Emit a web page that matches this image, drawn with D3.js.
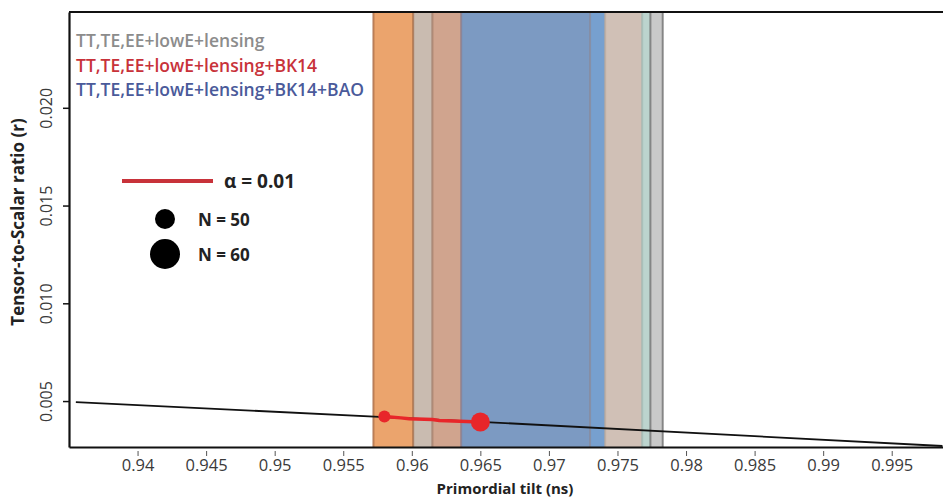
<!DOCTYPE html>
<html>
<head>
<meta charset="utf-8">
<script src="https://cdn.jsdelivr.net/npm/d3@7"></script>
<style>
  body { margin: 0; background: #fff; }
  text { font-family: "Open Sans", "Liberation Sans", sans-serif; }
</style>
</head>
<body>
<div id="viz"></div>
<script>
// ---- data ----
var xTicks = [0.94, 0.945, 0.95, 0.955, 0.96, 0.965, 0.97, 0.975, 0.98, 0.985, 0.99, 0.995];
var yTicks = [0.005, 0.010, 0.015, 0.020];

// vertical constraint bands (ns edges, left to right)
var bandEdges = [0.9572, 0.9601, 0.9615, 0.9636, 0.9730, 0.9741, 0.9768, 0.9774, 0.9783];

// the black model curve
var curveNs = [0.9355, 0.958, 0.965, 0.9987];
var curveR  = [0.00495, 0.00418, 0.00394, 0.0027];

// alpha = 0.01 segment between N = 50 and N = 60
var alphaNs = [0.958, 0.9592, 0.9598, 0.9615, 0.9620, 0.965];
var alphaR  = [0.00421, 0.00414, 0.00410, 0.00406, 0.00401, 0.00393];

var pointNs = [0.958, 0.965];
var pointR  = [0.00421, 0.003925];
var pointN  = [50, 60];

var legendLabels = ["TT,TE,EE+lowE+lensing", "TT,TE,EE+lowE+lensing+BK14", "TT,TE,EE+lowE+lensing+BK14+BAO"];

// ---- styles ----
var bandFill   = ["#eba46d", "#c9bbb0", "#d0a48e", "#7c9ac2", "#77a0cf", "#d0c0b6", "#bcd4ce", "#c9c9c9"];
var bandStroke = ["#a8663e", "#a06a48", "#a07a66", "#8a7a8a", "#8a8a9a", "#b8a89c", "#a0b8b2", "#6a6a6a"];
var legendColors = ["#8c8c8c", "#c8323a", "#4a5a9a"];

var width = 943, height = 497;
var margin = {top: 12, right: 0, bottom: 50, left: 69};

var svg = d3.select("#viz")
  .append("svg")
  .attr("width", width)
  .attr("height", height);

var x = d3.scaleLinear()
  .domain([0.935, 0.99874])
  .range([margin.left, width - margin.right]);

var y = d3.scaleLinear()
  .domain([0.00265, 0.0249])
  .range([height - margin.bottom, margin.top]);

// bands
var bands = d3.range(bandEdges.length - 1).map(function(i) {
  return {a: bandEdges[i], b: bandEdges[i + 1], i: i};
});
svg.append("g").selectAll("rect")
  .data(bands)
  .enter().append("rect")
  .attr("x", function(d) { return x(d.a); })
  .attr("width", function(d) { return x(d.b) - x(d.a); })
  .attr("y", y.range()[1])
  .attr("height", y.range()[0] - y.range()[1])
  .attr("fill", function(d) { return bandFill[d.i]; });

// darker edges between bands
svg.append("g").selectAll("line")
  .data(bandEdges)
  .enter().append("line")
  .attr("x1", function(d) { return x(d); })
  .attr("x2", function(d) { return x(d); })
  .attr("y1", y.range()[1])
  .attr("y2", y.range()[0])
  .attr("stroke", function(d, i) { return bandStroke[Math.min(i, bandStroke.length - 1)]; })
  .attr("stroke-width", 2)
  .attr("opacity", 0.75);

// black curve
var curve = curveNs.map(function(d, i) { return [d, curveR[i]]; });
svg.append("path").datum(curve)
  .attr("fill", "none")
  .attr("stroke", "#111")
  .attr("stroke-width", 1.8)
  .attr("d", d3.line()
    .x(function(d) { return x(d[0]); })
    .y(function(d) { return y(d[1]); }));

// red alpha segment
var alphaPts = alphaNs.map(function(d, i) { return [d, alphaR[i]]; });
svg.append("path").datum(alphaPts)
  .attr("fill", "none")
  .attr("stroke", "#e8262a")
  .attr("stroke-width", 3.5)
  .attr("d", d3.line()
    .x(function(d) { return x(d[0]); })
    .y(function(d) { return y(d[1]); }));

var rSize = d3.scaleLinear().domain([50, 60]).range([6, 9.5]);
svg.append("g").selectAll("circle")
  .data(pointNs)
  .enter().append("circle")
  .attr("cx", function(d) { return x(d); })
  .attr("cy", function(d, i) { return y(pointR[i]); })
  .attr("r", function(d, i) { return rSize(pointN[i]); })
  .attr("fill", "#e8262a");

// axes
var xAxis = svg.append("g")
  .attr("transform", "translate(0," + y.range()[0] + ")")
  .call(d3.axisBottom(x).tickValues(xTicks).tickFormat(d3.format("")).tickSizeOuter(0).tickSizeInner(0).tickPadding(12));
xAxis.select(".domain").attr("stroke", "#111").attr("stroke-width", 2.2);
xAxis.selectAll(".tick").append("line")
  .attr("y1", 4).attr("y2", 9).attr("stroke", "#555").attr("stroke-width", 1);
xAxis.selectAll(".tick text")
  .attr("fill", "#3a3a3a")
  .style("font-size", "16.5px")
  .style("font-family", "'Open Sans', sans-serif");

var yAxis = svg.append("g")
  .attr("transform", "translate(" + x.range()[0] + ",0)")
  .call(d3.axisLeft(y).tickValues(yTicks).tickFormat(d3.format(".3f")).tickSizeOuter(0).tickSizeInner(6));
yAxis.select(".domain").attr("stroke", "#111").attr("stroke-width", 2.2);
yAxis.selectAll(".tick line").attr("stroke", "#111").attr("stroke-width", 1.5);
yAxis.selectAll(".tick text")
  .attr("fill", "#3a3a3a")
  .attr("transform", "rotate(-90)")
  .attr("x", 0)
  .attr("y", -17)
  .attr("dy", "0")
  .attr("text-anchor", "middle")
  .style("font-size", "16px")
  .style("font-family", "'Open Sans', sans-serif");

// top frame line
svg.append("line")
  .attr("x1", x.range()[0]).attr("x2", x.range()[1])
  .attr("y1", y.range()[1]).attr("y2", y.range()[1])
  .attr("stroke", "#111").attr("stroke-width", 2.2);

// axis titles
svg.append("text")
  .attr("x", 505).attr("y", 494)
  .attr("text-anchor", "middle")
  .attr("font-weight", "bold")
  .attr("font-size", "15px")
  .attr("fill", "#222")
  .text("Primordial tilt (ns)");

svg.append("text")
  .attr("transform", "translate(24,222) rotate(-90)")
  .attr("text-anchor", "middle")
  .attr("font-weight", "bold")
  .attr("font-size", "17px")
  .attr("fill", "#222")
  .text("Tensor-to-Scalar ratio (r)");

// dataset legend
svg.append("g").selectAll("text")
  .data(legendLabels)
  .enter().append("text")
  .attr("x", 76)
  .attr("y", function(d, i) { return 47 + i * 24.5; })
  .attr("font-weight", 600)
  .attr("font-size", "17.5px")
  .attr("fill", function(d, i) { return legendColors[i]; })
  .text(function(d) { return d; });

// alpha / N legend
svg.append("line")
  .attr("x1", 122).attr("x2", 213).attr("y1", 181).attr("y2", 181)
  .attr("stroke", "#c8323a").attr("stroke-width", 4);
svg.append("text")
  .attr("x", 224).attr("y", 188)
  .attr("font-weight", "bold").attr("font-size", "19px").attr("fill", "#222")
  .text("α = 0.01");

var legN = svg.append("g").selectAll("g")
  .data(pointN)
  .enter().append("g");
legN.append("circle")
  .attr("cx", 165)
  .attr("cy", function(d, i) { return 219 + i * 35; })
  .attr("r", function(d) { return d === 50 ? 10 : 15; })
  .attr("fill", "#000");
legN.append("text")
  .attr("x", 198)
  .attr("y", function(d, i) { return 226 + i * 35; })
  .attr("font-weight", "bold").attr("font-size", "17px").attr("fill", "#222")
  .text(function(d) { return "N = " + d; });
</script>
</body>
</html>
